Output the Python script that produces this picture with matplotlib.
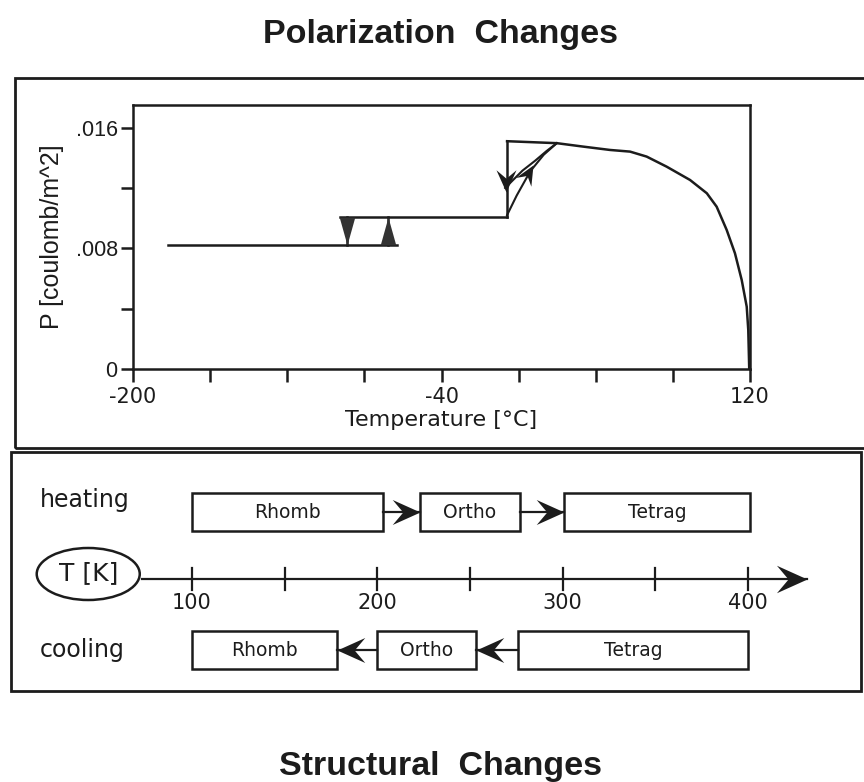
import matplotlib.pyplot as plt
from matplotlib.patches import Rectangle, Ellipse
from matplotlib.path import Path
from matplotlib.markers import MarkerStyle
from matplotlib.transforms import Affine2D

W, H = 864, 782
INK = '#1c1c1c'

# polarization P [C/m^2] against temperature [deg C]
rhomb_T = [-182, -63]
rhomb_P = 0.0082
ortho_T = [-92.5, -6]
ortho_P = 0.0101
cool_RO_T = -89        # ortho -> rhomb while cooling
heat_RO_T = -67.5      # rhomb -> ortho while heating
ortho_tetrag_T = -6
tetrag_T = [-6, 19.8, 33.6, 47.4, 57.8, 66.4, 76.8, 88.9, 97.6, 102.7,
            107.9, 112.2, 115.7, 118.3, 119.1, 119.6]
tetrag_P = [0.0151, 0.01497, 0.01474, 0.01452, 0.01441, 0.01408, 0.01341, 0.01253,
            0.01165, 0.01076, 0.00922, 0.00767, 0.0059, 0.00413, 0.00259, 0.0]
heat_OT_T = [-6, -1, 6, 13, 19.8]
heat_OT_P = [0.0102, 0.0115, 0.0131, 0.0142, 0.01497]
cool_OT_T = [-7, 2, 8.5, 14.5, 19.8]
cool_OT_P = [0.0120, 0.01315, 0.0138, 0.01445, 0.01497]

x_ticks = [-200, -160, -120, -80, -40, 0, 40, 80, 120]
x_labels = ['-200', '', '', '', '-40', '', '', '', '120']
y_ticks = [0, 0.004, 0.008, 0.012, 0.016]
y_labels = ['0', '', '.008', '', '.016']

# structural phases against temperature [K]
phases = ['Rhomb', 'Ortho', 'Tetrag']
heat_lo = [100, 223, 301]
heat_hi = [203, 277, 401]
cool_lo = [100, 200, 276]
cool_hi = [178, 253, 400]
k_ticks = [100, 150, 200, 250, 300, 350, 400]
k_labels = ['100', '', '200', '', '300', '', '400']

# barbed arrow head, tip at the origin pointing along +x
barb = Path([(0, 0), (-1, 0.45), (-0.62, 0), (-1, -0.45), (0, 0)],
            [Path.MOVETO, Path.LINETO, Path.LINETO, Path.LINETO, Path.CLOSEPOLY])


def head(angle):
    return MarkerStyle(barb, transform=Affine2D().rotate_deg(angle))


tri_down = Path([(-0.28, 0.5), (0.28, 0.5), (0, -0.5), (-0.28, 0.5)])
tri_up = Path([(-0.28, -0.5), (0.28, -0.5), (0, 0.5), (-0.28, -0.5)])


def px_rect(x0, y0, x1, y1):
    return Rectangle((x0 / W, 1 - y1 / H), (x1 - x0) / W, (y1 - y0) / H,
                     transform=fig.transFigure, fill=False, lw=2, ec=INK)


def px_axes(x0, y0, x1, y1):
    return fig.add_axes([x0 / W, 1 - y1 / H, (x1 - x0) / W, (y1 - y0) / H])


fig = plt.figure(figsize=(W / 100, H / 100), dpi=100)
fig.add_artist(px_rect(15, 78, 880, 448))
fig.add_artist(px_rect(11, 452, 861, 691))

fig.text(441 / W, 1 - 43 / H, 'Polarization  Changes', ha='center', va='baseline',
         family='Liberation Sans', weight='bold', fontsize=24.5, color=INK)
fig.text(441 / W, 1 - 775 / H, 'Structural  Changes', ha='center', va='baseline',
         family='Liberation Sans', weight='bold', fontsize=24.5, color=INK)

# ---- polarization panel ----
ax = px_axes(133, 105, 750, 369)
lw = 1.8
ax.plot(rhomb_T, [rhomb_P] * 2, color=INK, lw=lw)
ax.plot(ortho_T, [ortho_P] * 2, color=INK, lw=lw)
ax.plot([cool_RO_T] * 2, [rhomb_P, ortho_P], color=INK, lw=lw)
ax.plot([heat_RO_T] * 2, [rhomb_P, ortho_P], color=INK, lw=lw)
mid = (rhomb_P + ortho_P) / 2
ax.plot(cool_RO_T, mid, marker=MarkerStyle(tri_down), ms=20, color='#333333', mec='none')
ax.plot(heat_RO_T, mid, marker=MarkerStyle(tri_up), ms=20, color='#333333', mec='none')

ax.plot([ortho_tetrag_T] * 2, [ortho_P, tetrag_P[0]], color=INK, lw=lw)
ax.plot(tetrag_T, tetrag_P, color=INK, lw=lw)
ax.plot(heat_OT_T, heat_OT_P, color=INK, lw=1.5)
ax.plot(cool_OT_T, cool_OT_P, color=INK, lw=1.5)
ax.plot(ortho_tetrag_T - 0.5, 0.0117, marker=head(-90), ms=32, color=INK, mec='none')
ax.plot(heat_OT_T[2] + 1.5, 0.0135, marker=head(60), ms=28, color=INK, mec='none')

ax.set_xlim(-200, 120)
ax.set_ylim(0, 0.0175)
ax.set_xticks(x_ticks, x_labels, fontsize=15, color=INK)
ax.set_yticks(y_ticks, y_labels, fontsize=15.5, color=INK, family='Liberation Sans')
ax.tick_params(direction='out', length=9, width=1.8, color=INK, pad=2)
ax.tick_params(axis='x', pad=4)
for s in ax.spines.values():
    s.set_linewidth(1.8)
    s.set_color(INK)
ax.set_xlabel('Temperature [°C]', fontsize=16, color=INK, labelpad=2)
ax.set_ylabel('P [coulomb/m^2]', fontsize=18, color=INK, family='Liberation Sans', labelpad=8)

# ---- structural panel, x in kelvin, y in pixels below the panel top ----
ax2 = px_axes(15, 452, 860, 691)
ax2.set_xlim(100 + (15 - 192) / 1.853, 100 + (860 - 192) / 1.853)
ax2.set_ylim(239, 0)
ax2.axis('off')

row_heat, row_axis, row_cool = 60, 127, 198
box_h = 38
for name, lo, hi in zip(phases, heat_lo, heat_hi):
    ax2.add_patch(Rectangle((lo, row_heat - box_h / 2), hi - lo, box_h,
                            fill=False, lw=1.8, ec=INK))
    ax2.text((lo + hi) / 2, row_heat + 1, name, ha='center', va='center',
             fontsize=13.5, color=INK)
for name, lo, hi in zip(phases, cool_lo, cool_hi):
    ax2.add_patch(Rectangle((lo, row_cool - box_h / 2), hi - lo, box_h,
                            fill=False, lw=1.8, ec=INK))
    ax2.text((lo + hi) / 2, row_cool, name, ha='center', va='center',
             fontsize=13.5, color=INK)

for i in range(2):
    ax2.plot([heat_hi[i], heat_lo[i + 1]], [row_heat] * 2, color=INK, lw=1.6)
    ax2.plot(heat_lo[i + 1], row_heat, marker=head(0), ms=40, color=INK, mec='none')
    ax2.plot([cool_lo[i + 1], cool_hi[i]], [row_cool] * 2, color=INK, lw=1.6)
    ax2.plot(cool_hi[i], row_cool, marker=head(180), ms=40, color=INK, mec='none')

ax2.text(18, 48, 'heating', ha='left', va='center', fontsize=17, color=INK)
ax2.text(18, row_cool, 'cooling', ha='left', va='center', fontsize=17, color=INK)

# temperature axis with the T [K] badge
ax2.add_patch(Ellipse((44, row_axis - 5), 55.6, 52, fill=False, lw=1.8, ec=INK))
ax2.text(44, row_axis - 6, 'T [K]', ha='center', va='center', fontsize=18, color=INK)
ax2.plot([73, 432], [row_axis] * 2, color=INK, lw=1.6)
ax2.plot(432, row_axis, marker=head(0), ms=44, color=INK, mec='none')
for k, lab in zip(k_ticks, k_labels):
    ax2.plot([k, k], [row_axis - 11, row_axis + 11], color=INK, lw=1.6)
    if lab:
        ax2.text(k, row_axis + 24, lab, ha='center', va='center', fontsize=15, color=INK)

fig.savefig('out.png', dpi=100)
